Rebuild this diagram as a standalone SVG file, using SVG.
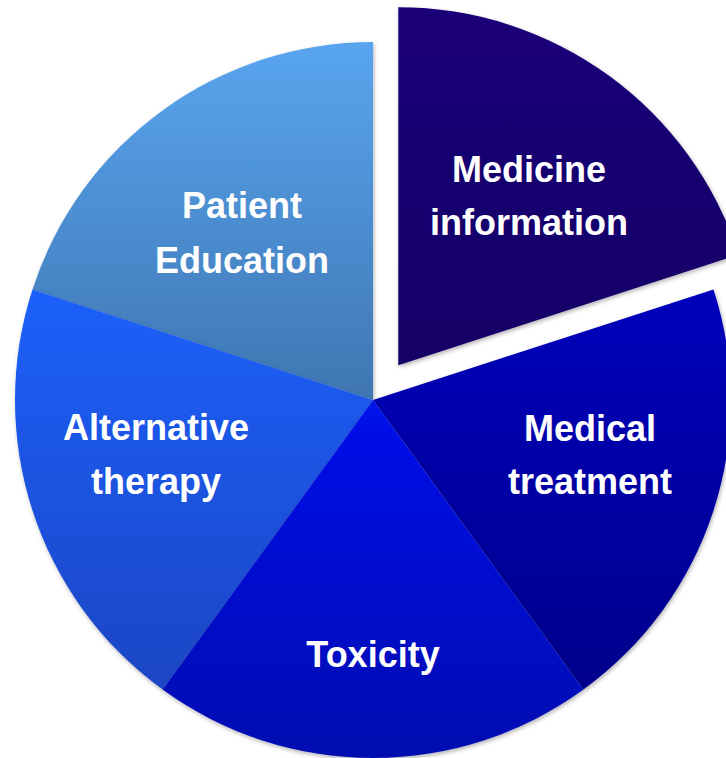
<svg xmlns="http://www.w3.org/2000/svg" width="726" height="758" viewBox="0 0 726 758">
  <defs>
    <style>
      .lbl { font-family: "Liberation Sans", Arial, sans-serif; font-weight: bold; font-size: 36px; fill: #ffffff; text-anchor: middle; }
      .slice { filter: url(#sh); }
    </style>
    <filter id="sh" x="-10%" y="-10%" width="120%" height="120%">
      <feDropShadow dx="1" dy="2" stdDeviation="2" flood-color="#000000" flood-opacity="0.3"/>
    </filter>
    <linearGradient id="gMed" x1="0" y1="0" x2="0" y2="1">
      <stop offset="0" stop-color="#1b0079"/>
      <stop offset="1" stop-color="#140066"/>
    </linearGradient>
    <linearGradient id="gTreat" x1="0" y1="0" x2="0" y2="1">
      <stop offset="0" stop-color="#0004bc"/>
      <stop offset="1" stop-color="#00008c"/>
    </linearGradient>
    <linearGradient id="gTox" x1="0" y1="0" x2="0" y2="1">
      <stop offset="0" stop-color="#0012ec"/>
      <stop offset="1" stop-color="#0008b0"/>
    </linearGradient>
    <linearGradient id="gAlt" x1="0" y1="0" x2="0" y2="1">
      <stop offset="0" stop-color="#1f60fa"/>
      <stop offset="1" stop-color="#1b46c4"/>
    </linearGradient>
    <linearGradient id="gPat" x1="0" y1="0" x2="0" y2="1">
      <stop offset="0" stop-color="#59a5ef"/>
      <stop offset="1" stop-color="#3f76b2"/>
    </linearGradient>
  </defs>
  <rect width="726" height="758" fill="#ffffff"/>
  <g id="patient-education">
    <path class="slice" d="M373,400 L373,42 A358,358 0 0 0 32.5,289.4 Z" fill="url(#gPat)"/>
    <text class="lbl" x="242" y="218">Patient</text>
    <text class="lbl" x="242" y="273">Education</text>
  </g>
  <g id="alternative-therapy">
    <path class="slice" d="M373,400 L32.5,289.4 A358,358 0 0 0 162.6,689.6 Z" fill="url(#gAlt)"/>
    <text class="lbl" x="156" y="440">Alternative</text>
    <text class="lbl" x="156" y="494">therapy</text>
  </g>
  <g id="medical-treatment">
    <path class="slice" d="M373,400 L583.4,689.6 A358,358 0 0 0 713.5,289.4 Z" fill="url(#gTreat)"/>
    <text class="lbl" x="590" y="441">Medical</text>
    <text class="lbl" x="590" y="494">treatment</text>
  </g>
  <g id="toxicity">
    <path class="slice" d="M373,400 L162.6,689.6 A358,358 0 0 0 583.4,689.6 Z" fill="url(#gTox)"/>
    <text class="lbl" x="373" y="667">Toxicity</text>
  </g>
  <g id="medicine-information">
    <path class="slice" d="M398.3,365.2 L738.8,254.6 A358,358 0 0 0 398.3,7.2 Z" fill="url(#gMed)"/>
    <text class="lbl" x="529" y="182">Medicine</text>
    <text class="lbl" x="529" y="235">information</text>
  </g>
  <g id="connectors"/>
</svg>
